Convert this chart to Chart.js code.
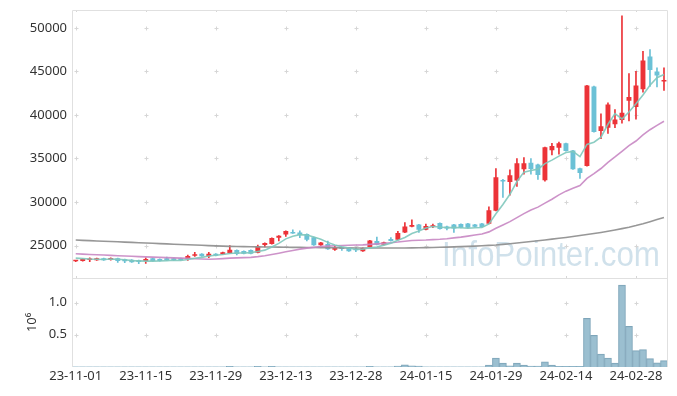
<!DOCTYPE html>
<html>
<head>
<meta charset="utf-8">
<script src="https://cdn.jsdelivr.net/npm/chart.js@4.4.1/dist/chart.umd.min.js"></script>
<style>
html,body{margin:0;padding:0;background:#fff;}
#wrap{width:677px;height:396px;position:relative;}
</style>
</head>
<body>
<div id="wrap"><canvas id="c"></canvas></div>
<script>
const dates = ['23-11-01','23-11-02','23-11-03','23-11-06','23-11-07','23-11-08','23-11-09','23-11-10','23-11-13','23-11-14',
'23-11-15','23-11-16','23-11-17','23-11-20','23-11-21','23-11-22','23-11-23','23-11-24','23-11-27','23-11-28',
'23-11-29','23-11-30','23-12-01','23-12-04','23-12-05','23-12-06','23-12-07','23-12-08','23-12-11','23-12-12',
'23-12-13','23-12-14','23-12-15','23-12-18','23-12-19','23-12-20','23-12-21','23-12-22','23-12-26','23-12-27',
'23-12-28','24-01-02','24-01-03','24-01-04','24-01-05','24-01-08','24-01-09','24-01-10','24-01-11','24-01-12',
'24-01-15','24-01-16','24-01-17','24-01-18','24-01-19','24-01-22','24-01-23','24-01-24','24-01-25','24-01-26',
'24-01-29','24-01-30','24-01-31','24-02-01','24-02-02','24-02-05','24-02-06','24-02-07','24-02-08','24-02-13',
'24-02-14','24-02-15','24-02-16','24-02-19','24-02-20','24-02-21','24-02-22','24-02-23','24-02-26','24-02-27',
'24-02-28','24-02-29','24-03-04','24-03-05','24-03-06'];

const openP = [23200,23230,23340,23300,23530,23340,23530,23420,23380,23300,
23230,23530,23450,23530,23530,23530,23450,23840,24060,23760,
24060,23990,24120,24480,24370,24480,24180,25060,25170,25900,
26280,26470,26510,26320,25940,25020,25170,24520,24680,24680,
24560,24330,24830,25520,25080,25740,25670,26510,27160,27420,
26810,27160,27580,27200,27420,27460,27540,27420,27540,27500,
28990,32540,32310,32460,33760,34520,34300,32500,35950,36240,
36740,35900,33880,34140,43260,38150,38530,38930,39430,41620,
40920,42960,46700,45000,43850];

const highP = [23300,23470,23600,23550,23560,23580,23550,23440,23400,23320,
23600,23550,23480,23680,23550,23550,23910,24220,24080,24220,
24080,24240,25000,24500,24400,24500,25050,25300,25880,26150,
26680,26810,26700,26340,25960,25380,25520,24980,24830,24700,
24750,24730,25610,25970,25400,25900,26620,27650,27960,27440,
27460,27460,27600,27220,27440,27480,27560,27440,27560,29450,
33840,32600,33680,35000,35100,35000,34350,36300,36750,36890,
36760,35920,33900,43400,43300,40130,41390,40600,51390,44750,
45020,47310,47500,45400,45400];

const lowP = [23150,23200,23150,23280,23280,23320,23070,23030,23050,22920,
22960,23200,23210,23280,23280,23320,23300,23760,23740,23600,
23820,23970,24100,23910,24050,24050,24160,24830,25150,25520,
26050,26380,25900,25520,25000,25000,24540,24450,24450,24310,
24300,24310,24810,25080,25060,25500,25650,26490,27140,26510,
26790,27040,26870,26780,26510,27020,27020,27140,27100,27480,
28970,30520,30780,31800,33190,33190,32580,32400,35400,35480,
35840,33740,32700,34120,38010,37270,37880,38530,39060,39300,
39520,42620,43260,43230,42800];

const closeP = [23230,23450,23450,23530,23300,23570,23230,23190,23070,23110,
23450,23230,23230,23300,23300,23340,23800,23990,23760,24060,
23840,24220,24520,24030,24070,24070,24900,25290,25860,26130,
26660,26390,26200,25670,25020,25360,24560,24750,24600,24330,
24450,24710,25590,25100,25380,25520,26430,27200,27350,26810,
27230,27340,26890,26970,26970,27040,27040,27160,27120,29060,
32830,32350,33070,34450,34450,33800,33090,36280,36430,36740,
35860,33760,33320,43380,38030,38700,41200,39480,40250,42050,
43380,46240,45150,44540,43880];

// volume in millions of shares
const volumeM = [0.004,0.004,0.004,0.004,0.004,0.004,0.004,0.004,0.004,0.004,
0.004,0.004,0.004,0.004,0.004,0.004,0.004,0.004,0.004,0.004,
0.004,0.004,0.012,0.004,0.004,0.004,0.012,0.004,0.012,0.004,
0.004,0.004,0.004,0.004,0.004,0.004,0.004,0.004,0.004,0.004,
0.004,0.004,0.012,0.004,0.004,0.004,0.015,0.035,0.02,0.015,
0.004,0.004,0.004,0.004,0.004,0.004,0.004,0.004,0.004,0.03,
0.14,0.06,0.02,0.06,0.03,0.015,0.015,0.08,0.03,0.012,
0.012,0.012,0.012,0.755,0.49,0.20,0.14,0.06,1.27,0.63,
0.255,0.27,0.13,0.065,0.10];

const ma5 = [23550,23500,23450,23420,23392,23460,23416,23364,23272,23234,
23210,23210,23218,23264,23302,23280,23394,23546,23638,23790,
23890,23974,24080,24134,24136,24182,24318,24472,24838,25250,
25768,26066,26248,26210,25988,25728,25362,25072,24858,24720,
24538,24568,24736,24836,25046,25260,25604,25926,26376,26662,
27004,27186,27124,27048,27080,27042,26982,27036,27066,27484,
28642,29704,30886,32352,33430,33624,33772,34414,34810,35268,
35680,35814,35222,36612,36870,37438,38926,40158,39532,40336,
41272,42280,43414,44272,44638];

const ma20 = [24050,24010,23975,23940,23905,23870,23835,23800,23765,23730,
23700,23670,23640,23610,23580,23550,23520,23490,23460,23430,
23460,23499,23552,23577,23616,23641,23724,23829,23969,24120,
24280,24438,24587,24705,24791,24892,24930,24968,25010,25024,
25054,25079,25132,25186,25251,25324,25400,25496,25570,25604,
25633,25680,25715,25780,25877,25961,26085,26206,26332,26568,
26987,27369,27743,28211,28664,29078,29411,29865,30319,30816,
31247,31568,31890,32710,33263,33846,34554,35170,35827,36476,
37004,37698,38302,38807,39278];

const ma120 = [25630,25596,25562,25528,25494,25460,25426,25392,25358,25324,
25290,25256,25222,25188,25154,25120,25088,25056,25024,24992,
24960,24930,24900,24886,24872,24860,24848,24836,24824,24812,
24800,24792,24784,24776,24768,24760,24752,24744,24736,24728,
24720,24718,24716,24714,24712,24710,24716,24724,24734,24746,
24760,24778,24798,24820,24844,24870,24900,24934,24972,25014,
25060,25130,25205,25285,25370,25455,25545,25640,25735,25830,
25930,26035,26145,26260,26380,26505,26640,26785,26940,27110,
27300,27510,27740,27985,28230];

const xTickIdx = [0,10,20,30,40,50,60,70,80];
const priceTicks = [25000,30000,35000,40000,45000,50000];
const volTicks = [0.5,1.0];

const UP = '#ec3338', DOWN = '#6bc1d6';
const candleColors = openP.map((o,i)=> closeP[i] >= o ? UP : DOWN);

const decor = {
  id:'decor',
  beforeDatasetsDraw(chart){
    const {ctx, chartArea:a, scales} = chart;
    const xs = scales.x, yp = scales.y, yv = scales.yv;
    ctx.save();
    ctx.font = '35px "Liberation Sans", Arial, sans-serif';
    ctx.fillStyle = 'rgba(150,188,210,0.45)';
    ctx.textAlign = 'right';
    ctx.textBaseline = 'alphabetic';
    ctx.fillText('InfoPointer.com', a.right - 7, yp.bottom - 11.5, 218);
    ctx.strokeStyle = '#d6d6d6';
    ctx.lineWidth = 1;
    const ys = priceTicks.map(v=>yp.getPixelForValue(v)).concat(volTicks.map(v=>yv.getPixelForValue(v)));
    xTickIdx.forEach(i=>{
      const x = Math.round(xs.getPixelForValue(i)) + 0.5;
      ys.forEach(y0=>{
        const y = Math.round(y0) + 0.5;
        ctx.beginPath();
        ctx.moveTo(x-2,y); ctx.lineTo(x+2,y);
        ctx.moveTo(x,y-2); ctx.lineTo(x,y+2);
        ctx.stroke();
      });
      const ys2 = [Math.round(a.top), Math.round(yp.bottom)];
      ctx.beginPath();
      ctx.moveTo(x, ys2[0]); ctx.lineTo(x, ys2[0]+2);
      ctx.moveTo(x, ys2[1]-2); ctx.lineTo(x, ys2[1]);
      ctx.stroke();
    });
    ctx.restore();
  },
  afterDraw(chart){
    const {ctx, chartArea:a, scales} = chart;
    const sep = Math.round(scales.y.bottom) + 0.5;
    ctx.save();
    ctx.strokeStyle = '#e0e0e0';
    ctx.lineWidth = 1;
    ctx.beginPath();
    const L = Math.round(a.left) - 0.5, R = Math.round(a.right) + 0.5, T = Math.round(a.top) + 0.5, B = a.bottom;
    ctx.moveTo(L, B); ctx.lineTo(L, T); ctx.lineTo(R, T); ctx.lineTo(R, B);
    ctx.moveTo(L, sep); ctx.lineTo(R, sep);
    ctx.stroke();
    ctx.restore();
  }
};

Chart.defaults.font.family = '"Noto Sans", "DejaVu Sans", sans-serif';
Chart.defaults.font.size = 13;
Chart.defaults.color = '#333';

const idx = dates.map((d,i)=>i);
const fitY = (ax)=>{ ax.width = 53; ax.paddingTop = 0; ax.paddingBottom = 0; };

new Chart(document.getElementById('c'), {
  type:'bar',
  data:{
    datasets:[
      {type:'line', label:'MA5', data: idx.map(i=>({x:i,y:ma5[i]})), yAxisID:'y',
       borderColor:'rgba(128,200,188,0.9)', borderWidth:1.6, pointRadius:0, order:0},
      {type:'line', label:'MA20', data: idx.map(i=>({x:i,y:ma20[i]})), yAxisID:'y',
       borderColor:'rgba(200,135,195,0.9)', borderWidth:1.6, pointRadius:0, order:0},
      {type:'line', label:'MA120', data: idx.map(i=>({x:i,y:ma120[i]})), yAxisID:'y',
       borderColor:'rgba(145,145,145,0.95)', borderWidth:1.6, pointRadius:0, order:0},
      {label:'body', data: idx.map(i=>({x:i,y:[openP[i],closeP[i]]})), yAxisID:'y',
       backgroundColor:candleColors, borderWidth:0, barPercentage:0.7, categoryPercentage:1,
       grouped:false, minBarLength:1.5, order:1},
      {label:'wick', data: idx.map(i=>({x:i,y:[lowP[i],highP[i]]})), yAxisID:'y',
       backgroundColor:candleColors, borderWidth:0, barThickness:1, grouped:false, order:2},
      {label:'volume', data: idx.map(i=>({x:i,y:volumeM[i]})), yAxisID:'yv',
       backgroundColor:'rgba(150,188,205,0.95)', borderColor:'#7ea5b9', borderWidth:1,
       barPercentage:1, categoryPercentage:1, grouped:false, order:3}
    ]
  },
  options:{
    responsive:true, maintainAspectRatio:false, animation:false,
    devicePixelRatio:1,
    layout:{padding:{left:20, right:10, top:10, bottom:9}},
    plugins:{legend:{display:false}, tooltip:{enabled:false}},
    scales:{
      x:{type:'linear', min:-0.39, max:84.43, offset:false,
         grid:{display:false, drawTicks:false, offset:false}, border:{display:false},
         afterBuildTicks:(ax)=>{ ax.ticks = xTickIdx.map(v=>({value:v})); },
         afterFit:(ax)=>{ ax.height = 20; ax.paddingLeft = 0; ax.paddingRight = 0; },
         ticks:{autoSkip:false, maxRotation:0, padding:1.5, callback:(v)=>dates[v]}},
      y:{type:'linear', position:'left', stack:'panels', stackWeight:3, weight:2,
         min:21300, max:52050,
         grid:{display:false, drawTicks:false}, border:{display:false},
         afterBuildTicks:(ax)=>{ ax.ticks = priceTicks.map(v=>({value:v})); },
         afterFit:fitY,
         ticks:{padding:6, callback:(v)=>String(v)}},
      yv:{type:'linear', position:'left', stack:'panels', stackWeight:1, weight:1,
         min:0, max:1.385,
         grid:{display:false, drawTicks:false}, border:{display:false},
         afterBuildTicks:(ax)=>{ ax.ticks = volTicks.map(v=>({value:v})); },
         afterFit:fitY,
         title:{display:true, text:'10\u2076', padding:{top:4,bottom:0}, font:{size:13}, color:'#333'},
         ticks:{padding:6, callback:(v)=>Number(v).toFixed(1)}}
    }
  },
  plugins:[decor]
});
</script>
</body>
</html>
